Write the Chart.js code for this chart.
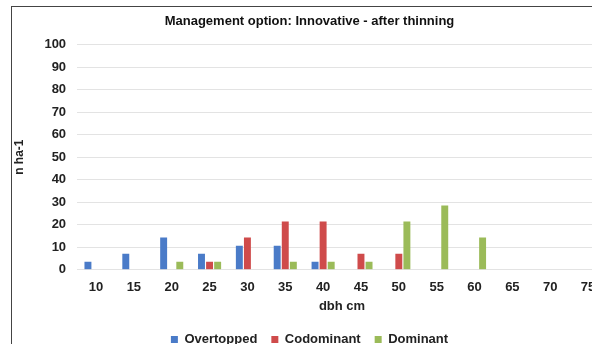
<!DOCTYPE html>
<html>
<head>
<meta charset="utf-8">
<script src="https://cdn.jsdelivr.net/npm/chart.js@4.4.0/dist/chart.umd.min.js"></script>
<style>
	html, body { margin: 0; padding: 0; background: #fff; overflow: hidden; width: 592px; height: 344px; }
	#frame { position: absolute; left: 11px; top: 6px; width: 600px; height: 350px; border: 1px solid #444; }
	#box { position: relative; width: 600px; height: 350px; }
</style>
</head>
<body>
<div id="frame"><div id="box"><canvas id="mycanvas"></canvas></div></div>
<script>
var dbh = ['10', '15', '20', '25', '30', '35', '40', '45', '50', '55', '60', '65', '70', '75'];
var overtopped = [3.6, 7.1, 14.3, 7.1, 10.7, 10.7, 3.6, 0, 0, 0, 0, 0, 0, 0];
var codominant = [0, 0, 0, 3.6, 14.3, 21.4, 21.4, 7.1, 7.1, 0, 0, 0, 0, 0];
var dominant = [0, 0, 3.6, 3.6, 0, 3.6, 3.6, 3.6, 21.4, 28.6, 14.3, 0, 0, 0];

var font = 'Liberation Sans, Arial, sans-serif';

var chartdata = {
	labels: dbh,
	datasets: [
		{ label: 'Overtopped', backgroundColor: '#4a7bc8', data: overtopped },
		{ label: 'Codominant', backgroundColor: '#cf4b4b', data: codominant },
		{ label: 'Dominant', backgroundColor: '#9bbb59', data: dominant }
	]
};

var ctx = document.getElementById('mycanvas');

var barGraph = new Chart(ctx, {
	type: 'bar',
	data: chartdata,
	options: {
		responsive: true,
		maintainAspectRatio: false,
		animation: false,
		layout: { padding: { left: 0, right: 5, top: 6, bottom: 1 } },
		datasets: { bar: { categoryPercentage: 0.64, barPercentage: 0.86 } },
		plugins: {
			title: {
				display: true,
				text: 'Management option: Innovative - after thinning',
				color: '#111',
				font: { family: font, size: 13, weight: 'bold' },
				padding: { top: 1, bottom: 15 }
			},
			legend: {
				position: 'bottom',
				labels: {
					color: '#222',
					font: { family: font, size: 13, weight: 'bold' },
					boxWidth: 7,
					boxHeight: 7,
					padding: 14
				}
			},
			tooltip: { enabled: false }
		},
		scales: {
			x: {
				grid: { display: false },
				border: { display: false },
				ticks: { color: '#222', font: { family: font, size: 13, weight: 'bold' }, padding: 2, maxRotation: 0 },
				title: { display: true, text: 'dbh cm', color: '#222', font: { family: font, size: 13, weight: 'bold' }, padding: { top: 1, bottom: 5 } }
			},
			y: {
				min: 0,
				max: 100,
				grid: { color: '#e3e3e3', lineWidth: 1, drawTicks: false },
				border: { display: false },
				ticks: { stepSize: 10, color: '#222', font: { family: font, size: 13, weight: 'bold' }, padding: 11 },
				title: { display: true, text: 'n ha-1', color: '#222', font: { family: font, size: 12, weight: 'bold' }, padding: { top: 0, bottom: 7 } }
			}
		}
	}
});
</script>
</body>
</html>
